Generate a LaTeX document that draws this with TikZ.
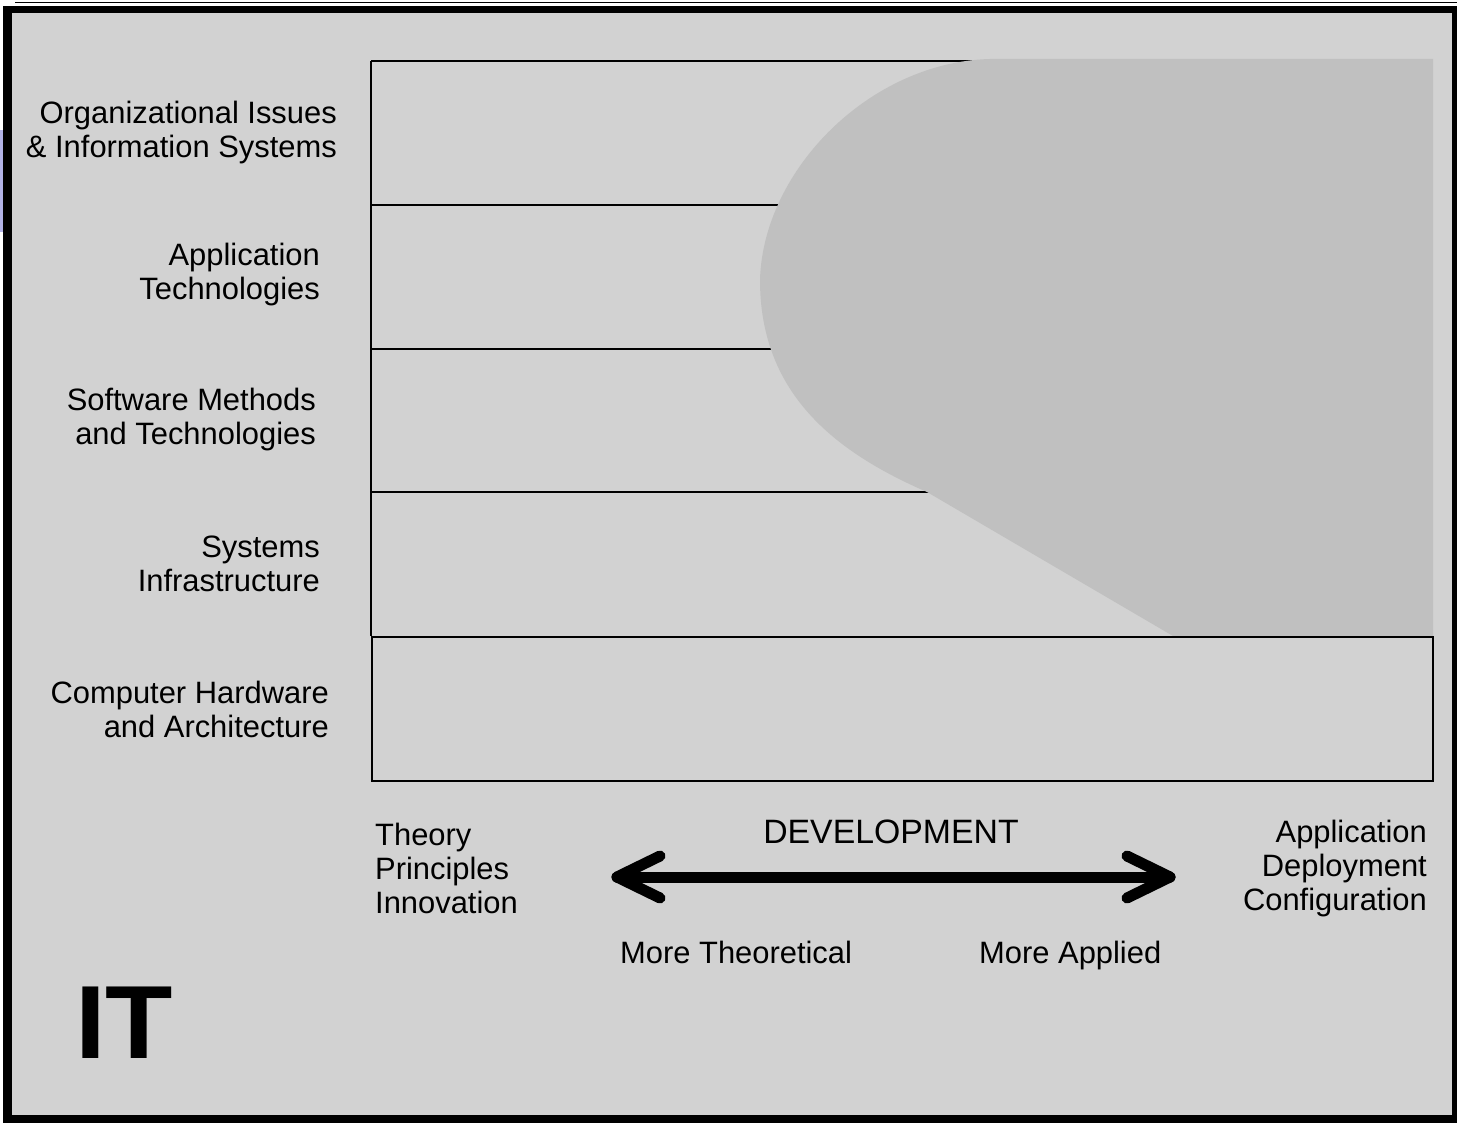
\documentclass[tikz,border=0pt]{standalone}
\usepackage{fontspec}
\setmainfont{Liberation Sans}
\definecolor{bgdot}{RGB}{210,210,210}
\definecolor{blobgray}{RGB}{192,192,192}
\definecolor{sidebar}{RGB}{178,178,230}
\begin{document}
\begin{tikzpicture}[x=1pt,y=-1pt,
  lbl/.style={anchor=east,align=right,inner sep=0pt,font=\fontsize{30.9}{34}\selectfont},
  lbll/.style={anchor=west,align=left,inner sep=0pt,font=\fontsize{30.9}{34}\selectfont},
  axis/.style={inner sep=0pt,font=\fontsize{30.9}{34}\selectfont},
  rowline/.style={line width=1.8pt,black},
  devarrow/.style={line width=11pt,line cap=round,line join=round,black}]
% page and frame
\fill[white] (0,0) rectangle (1457,1123);
\useasboundingbox (0,0) rectangle (1457,1123);
\fill[sidebar] (0,130) rectangle (2.5,232);
\draw[line width=1.8pt] (15,2.5) -- (1457,2.5);
\fill[black] (3,6.5) rectangle (1457,1123);
\fill[bgdot] (12,13) rectangle (1452,1115);
% layer lines
\draw[rowline] (371,61) -- (1000,61);
\draw[rowline] (371,205) -- (800,205);
\draw[rowline] (371,349) -- (800,349);
\draw[rowline] (371,492) -- (940,492);
\draw[rowline] (371,61) -- (371,636);
% blob
\fill[blobgray] (990,59) .. controls (870,62) and (763,170) .. (760,280)
  .. controls (760,390) and (830,450) .. (927,492) -- (1173,636) -- (1433,636) -- (1433,59) -- cycle;
% bottom layer
\node[draw=black,line width=1.8pt,minimum width=1061pt,minimum height=144pt,inner sep=0pt,anchor=north west] (hw) at (371,636) {};
% labels
\node[lbl] (org) at (337,133) {Organizational Issues\\\& Information Systems};
\node[lbl] (app) at (320,275) {Application\\Technologies};
\node[lbl] (sw) at (316,420) {Software Methods\\and Technologies};
\node[lbl] (sys) at (320,564) {Systems\\Infrastructure};
\node[lbl] (chw) at (329,709) {Computer Hardware\\and Architecture};
\node[lbll] (theory) at (375,868) {Theory\\Principles\\Innovation};
\node[lbl] (applied) at (1427,869) {Application\\Deployment\\Configuration};
\node[axis,font=\fontsize{33.8}{36}\selectfont] (dev) at (891,832) {DEVELOPMENT};
\node[axis,anchor=base west] (mtheo) at (620,963) {More Theoretical};
\node[axis,anchor=base west] (mapp) at (979,963) {More Applied};
\node[inner sep=0pt,anchor=base west,font=\fontsize{104}{110}\selectfont\bfseries] (it) at (75,1058) {\scalebox{1.06}[1]{IT}};
% development arrow
\coordinate (aL) at (617,877);
\coordinate (aR) at (1170,877);
\draw[devarrow] (aL) -- (aR);
\draw[devarrow] ([shift={(43,-21)}]aL) -- (aL) -- ([shift={(43,21)}]aL);
\draw[devarrow] ([shift={(-43,-21)}]aR) -- (aR) -- ([shift={(-43,21)}]aR);
\end{tikzpicture}
\end{document}
